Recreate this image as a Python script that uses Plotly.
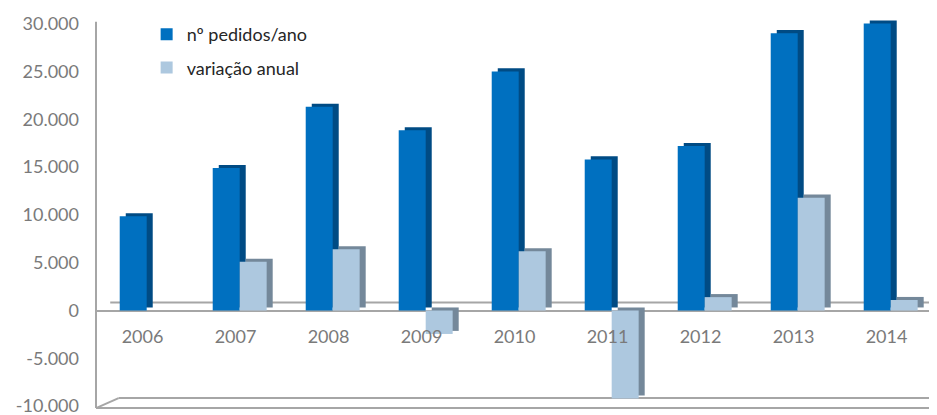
import plotly.graph_objects as go

# ---- data ----
years = ["2006", "2007", "2008", "2009", "2010", "2011", "2012", "2013", "2014"]
pedidos = [9850, 14900, 21300, 18850, 25000, 15800, 17200, 29000, 30000]
variacao = [None, 5100, 6400, -2450, 6200, -9200, 1400, 11800, 1100]
y_ticks = [-10000, -5000, 0, 5000, 10000, 15000, 20000, 25000, 30000]
y_tick_labels = ["-10.000", "-5.000", "0", "5.000", "10.000", "15.000", "20.000", "25.000", "30.000"]
names = ["nº pedidos/ano", "variação anual"]

# ---- style ----
FONT = "Lato"
GRAY = "#7A7A7A"
LINE = "#A6A6A6"
BLUE, BLUE_SIDE = "#0070C0", "#004B84"
LIGHT, LIGHT_SIDE = "#ADC8DF", "#74889A"
W = 0.29            # bar width (category units)
DX = 0.065          # depth offset in x
DY = 320            # depth offset in value units
Y_MIN, Y_MAX, Y_TOP = -10400, 31000, 30000
PX_PER_UNIT = 382 / 40000

fig = go.Figure()

def add_series(vals, off, col, side, name, grp):
    # side/top face (depth) drawn behind the front face
    fig.add_trace(go.Bar(x=years, y=vals, base=DY, offset=off + DX, width=W,
                         marker=dict(color=side, line=dict(width=0)),
                         showlegend=False, hoverinfo="skip", legendgroup=grp))
    fig.add_trace(go.Bar(x=years, y=vals, offset=off, width=W, name=name,
                         marker=dict(color=col, line=dict(width=0)),
                         legendgroup=grp))

add_series(pedidos, -0.245, BLUE, BLUE_SIDE, names[0], "a")
add_series(variacao, 0.045, LIGHT, LIGHT_SIDE, names[1], "b")

shapes = [
    # value axis line
    dict(type="line", xref="paper", yref="y", x0=0, x1=0, y0=-10200, y1=Y_TOP + 200,
         line=dict(color=LINE, width=2), layer="below"),
    # floor back line at zero level
    dict(type="line", xref="paper", yref="y", x0=0.017, x1=0.997, y0=850, y1=850,
         line=dict(color=LINE, width=2), layer="below"),
    # bottom floor
    dict(type="line", xref="paper", yref="y", x0=0.027, x1=0.997, y0=-9150, y1=-9150,
         line=dict(color=LINE, width=2), layer="below"),
    dict(type="line", xref="paper", yref="y", x0=0.0, x1=0.027, y0=-10200, y1=-9150,
         line=dict(color=LINE, width=2), layer="below"),
    dict(type="line", xref="paper", yref="y", x0=0.0, x1=1.0, y0=-10200, y1=-10200,
         line=dict(color=LINE, width=2), layer="below"),
]

FIG_H = 415
plot_h = (Y_MAX - Y_MIN) * PX_PER_UNIT
top_m = 6.45
bot_m = FIG_H - top_m - plot_h

fig.update_layout(
    width=929, height=FIG_H,
    margin=dict(l=88, r=4, t=top_m, b=bot_m),
    paper_bgcolor="white", plot_bgcolor="white",
    barmode="overlay",
    font=dict(family=FONT, size=18, color=GRAY),
    shapes=shapes,
    legend=dict(x=0.0605, y=0.995, xanchor="left", yanchor="top",
                font=dict(size=18, color="#262626"), bgcolor="rgba(0,0,0,0)",
                traceorder="grouped", tracegroupgap=7, itemwidth=30),
    xaxis=dict(anchor="free", position=(0 - Y_MIN) / (Y_MAX - Y_MIN), showline=False,
               showgrid=False, zeroline=False, ticks="", tickfont=dict(size=18, color=GRAY),
               ticklabelstandoff=13, range=[-0.5, 8.5], automargin=False),
    yaxis=dict(range=[Y_MIN, Y_MAX], tickvals=y_ticks, ticktext=y_tick_labels,
               showgrid=False, showline=False,
               zeroline=True, zerolinecolor=LINE, zerolinewidth=2,
               ticks="", ticklabelstandoff=16, tickfont=dict(size=18, color=GRAY),
               automargin=False),
)

fig.write_html("out.html")
